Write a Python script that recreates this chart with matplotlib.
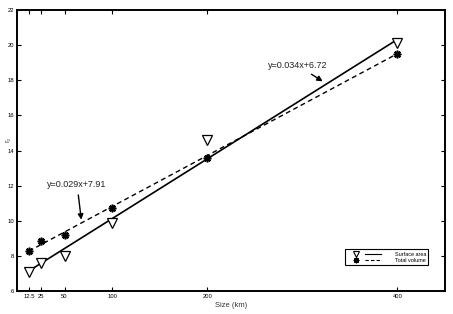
import matplotlib
matplotlib.use("Agg")
import matplotlib.pyplot as plt
from matplotlib.lines import Line2D
from matplotlib.legend_handler import HandlerTuple
import numpy as np

sizes = [12.5, 25, 50, 100, 200, 400]
surface_area = [7.1, 7.6, 8.0, 9.9, 14.6, 20.1]
total_volume = [8.28, 8.85, 9.2, 10.7, 13.6, 19.5]
fit_sa = (0.034, 6.72)
fit_tv = (0.029, 7.91)
xticks = [12.5, 25, 50, 100, 200, 400]
xticklabels = ["12.5", "25", "50", "100", "200", "400"]
yticks = [6, 8, 10, 12, 14, 16, 18, 20, 22]

plt.rcParams["font.family"] = ["Liberation Sans", "DejaVu Sans"]

fig = plt.figure(figsize=(4.53, 3.14), dpi=100)
ax = fig.add_axes([0.0375, 0.0732, 0.9445, 0.895])

xs = np.array([12.5, 400])
ax.plot(xs, fit_sa[0] * xs + fit_sa[1], color="black", lw=1.2)
ax.plot(xs, fit_tv[0] * xs + fit_tv[1], color="black", lw=1.0, ls=(0, (3.5, 2.5)))
ax.plot(sizes, surface_area, ls="none", marker="v", mfc="white", mec="black", ms=6.5, mew=0.9)
ax.plot(sizes, total_volume, ls="none", marker=(8, 2, 0), color="black", ms=5.5, mew=1.2)

ax.set_xlim(0, 450)
ax.set_ylim(6, 22)
ax.set_xticks(xticks)
ax.set_xticklabels(xticklabels)
ax.set_yticks(yticks)
ax.tick_params(direction="in", top=True, right=True, labelsize=4.2, length=3, width=0.8, pad=2)
for s in ax.spines.values():
    s.set_linewidth(1.4)

ax.set_xlabel("Size (km)", fontsize=5.5, labelpad=2, color="#333333")
ax.set_ylabel("r\u2082", fontsize=5, color="#333333")
ax.yaxis.set_label_coords(-0.013, 0.54)

ax.annotate("y=0.029x+7.91", xy=(68, 9.9), xytext=(32, 11.9), fontsize=6.5, color="#222222",
            arrowprops=dict(arrowstyle="-|>", color="black", lw=1.0, mutation_scale=8))
ax.annotate("y=0.034x+6.72", xy=(324, 17.85), xytext=(264, 18.7), fontsize=6.5, color="#222222",
            arrowprops=dict(arrowstyle="-|>", color="black", lw=1.0, mutation_scale=8))

h_sa = (Line2D([], [], ls="none", marker="v", mfc="white", mec="black", ms=5, mew=0.8),
        Line2D([], [], color="black", lw=0.8))
h_tv = (Line2D([], [], ls="none", marker=(8, 2, 0), color="black", ms=4, mew=0.9),
        Line2D([], [], color="black", lw=0.8, ls=(0, (3, 2))))
leg = ax.legend([h_sa, h_tv], ["Surface area", "Total volume"],
                handler_map={tuple: HandlerTuple(ndivide=None, pad=0.3)},
                loc="lower right", bbox_to_anchor=(0.968, 0.082), fontsize=4,
                fancybox=False, edgecolor="black", framealpha=1, handlelength=6.0,
                borderpad=0.45, labelspacing=0.2, handletextpad=2.4)
leg.get_frame().set_linewidth(0.8)

fig.savefig("out.png", dpi=100)
